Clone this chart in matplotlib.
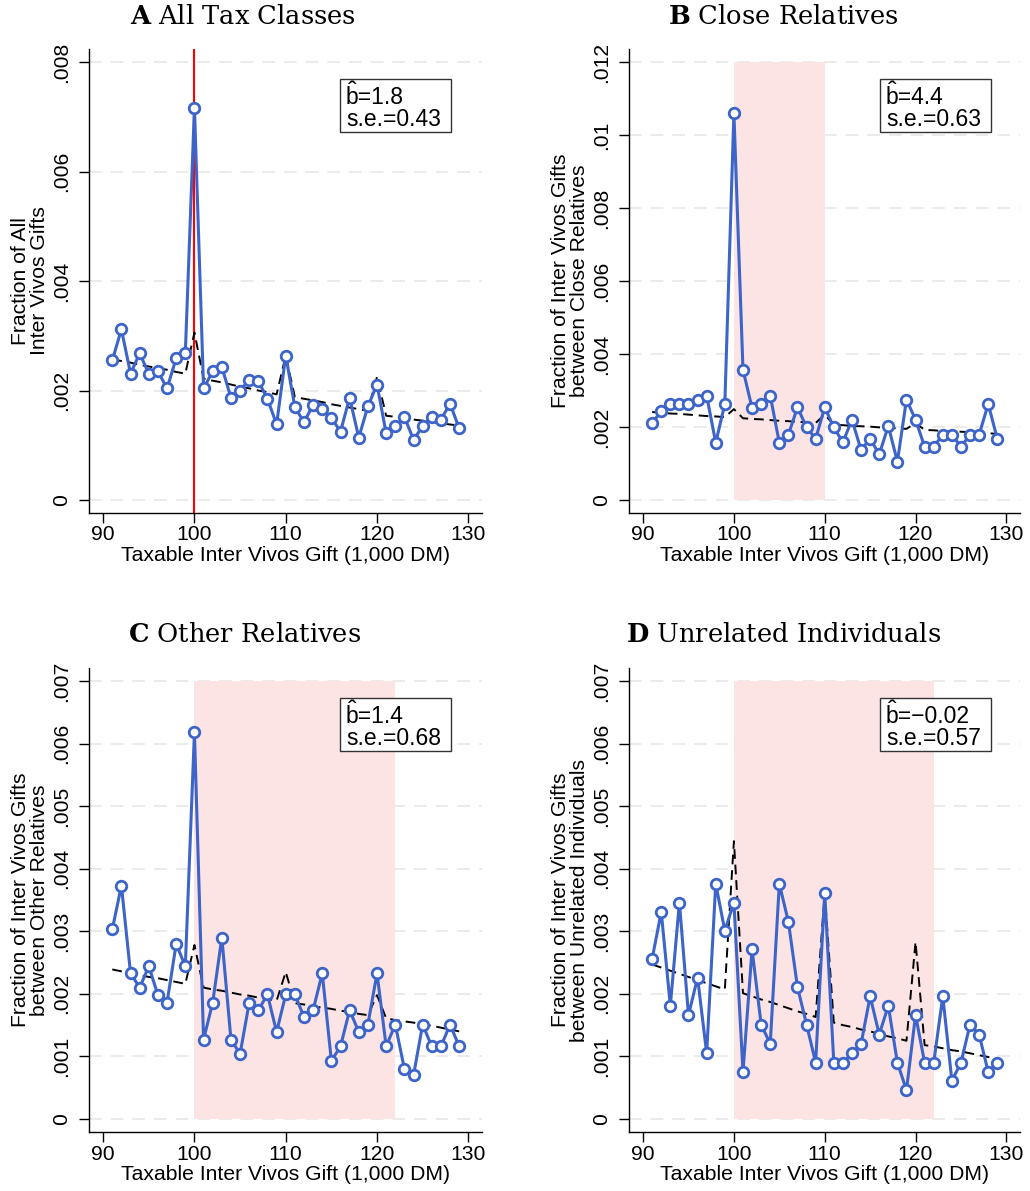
import matplotlib
matplotlib.use("Agg")
import matplotlib.pyplot as plt
from matplotlib.patches import Rectangle
from matplotlib.transforms import offset_copy

plt.rcParams['font.family'] = ['Liberation Sans', 'DejaVu Sans']
plt.rcParams['mathtext.fontset'] = 'custom'
plt.rcParams['mathtext.rm'] = 'Liberation Sans'
plt.rcParams['mathtext.it'] = 'Liberation Sans'
plt.rcParams['mathtext.bf'] = 'DejaVu Serif:bold'

# ---------------- data ----------------
gift = list(range(91, 130))

frac_all = [0.00255, 0.00312, 0.00231, 0.00268, 0.00231, 0.00235, 0.00204, 0.00259, 0.00268,
            0.00717, 0.00204, 0.00235, 0.00243, 0.00187, 0.00200, 0.00220, 0.00217, 0.00185,
            0.00138, 0.00264, 0.00170, 0.00142, 0.00174, 0.00166, 0.00150, 0.00125, 0.00187,
            0.00114, 0.00171, 0.00211, 0.00122, 0.00135, 0.00152, 0.00110, 0.00135, 0.00152,
            0.00147, 0.00176, 0.00131]
fit_all = [0.00257, 0.00254, 0.00251, 0.00247, 0.00244, 0.00241, 0.00238, 0.00234, 0.00231,
           0.00306, 0.00222, 0.00218, 0.00215, 0.00211, 0.00207, 0.00204, 0.00200, 0.00197,
           0.00193, 0.00264, 0.00188, 0.00185, 0.00182, 0.00179, 0.00175, 0.00172, 0.00169,
           0.00166, 0.00163, 0.00225, 0.00154, 0.00152, 0.00149, 0.00147, 0.00145, 0.00143,
           0.00140, 0.00138, 0.00136]

frac_close = [0.00211, 0.00243, 0.00263, 0.00263, 0.00263, 0.00275, 0.00286, 0.00157, 0.00263,
              0.01060, 0.00357, 0.00252, 0.00263, 0.00286, 0.00157, 0.00179, 0.00254, 0.00199,
              0.00168, 0.00254, 0.00199, 0.00158, 0.00220, 0.00137, 0.00168, 0.00125, 0.00203,
              0.00105, 0.00275, 0.00220, 0.00146, 0.00146, 0.00179, 0.00179, 0.00146, 0.00179,
              0.00179, 0.00263, 0.00168]
fit_close = [0.00241, 0.00239, 0.00237, 0.00236, 0.00234, 0.00232, 0.00230, 0.00229, 0.00227,
             0.00249, 0.00224, 0.00222, 0.00221, 0.00219, 0.00217, 0.00216, 0.00214, 0.00213,
             0.00211, 0.00234, 0.00206, 0.00205, 0.00203, 0.00202, 0.00201, 0.00199, 0.00198,
             0.00196, 0.00195, 0.00211, 0.00192, 0.00191, 0.00189, 0.00188, 0.00187, 0.00186,
             0.00184, 0.00183, 0.00181]

frac_other = [0.00303, 0.00373, 0.00233, 0.00210, 0.00244, 0.00198, 0.00186, 0.00280, 0.00244,
              0.00618, 0.00127, 0.00186, 0.00290, 0.00127, 0.00104, 0.00186, 0.00174, 0.00199,
              0.00139, 0.00199, 0.00199, 0.00163, 0.00174, 0.00233, 0.00093, 0.00116, 0.00174,
              0.00139, 0.00151, 0.00233, 0.00116, 0.00151, 0.00080, 0.00070, 0.00151, 0.00116,
              0.00116, 0.00151, 0.00116]
fit_other = [0.00239, 0.00236, 0.00233, 0.00230, 0.00227, 0.00225, 0.00222, 0.00219, 0.00216,
             0.00278, 0.00210, 0.00207, 0.00205, 0.00202, 0.00199, 0.00197, 0.00194, 0.00192,
             0.00189, 0.00235, 0.00185, 0.00183, 0.00180, 0.00178, 0.00176, 0.00173, 0.00171,
             0.00168, 0.00166, 0.00198, 0.00161, 0.00158, 0.00156, 0.00154, 0.00151, 0.00149,
             0.00146, 0.00143, 0.00140]

frac_unrel = [0.00256, 0.00331, 0.00181, 0.00346, 0.00166, 0.00226, 0.00105, 0.00376, 0.00301,
              0.00346, 0.00075, 0.00271, 0.00151, 0.00120, 0.00376, 0.00315, 0.00211, 0.00151,
              0.00090, 0.00361, 0.00090, 0.00090, 0.00105, 0.00120, 0.00196, 0.00135, 0.00181,
              0.00090, 0.00046, 0.00166, 0.00090, 0.00090, 0.00196, 0.00061, 0.00090, 0.00151,
              0.00135, 0.00075, 0.00090]
fit_unrel = [0.00247, 0.00242, 0.00237, 0.00232, 0.00227, 0.00222, 0.00217, 0.00212, 0.00207,
             0.00444, 0.00201, 0.00196, 0.00191, 0.00187, 0.00182, 0.00177, 0.00172, 0.00168,
             0.00163, 0.00361, 0.00154, 0.00150, 0.00147, 0.00143, 0.00140, 0.00136, 0.00132,
             0.00129, 0.00125, 0.00283, 0.00118, 0.00116, 0.00113, 0.00110, 0.00108, 0.00105,
             0.00102, 0.00099, 0.00096]

panel_letters = ["A", "B", "C", "D"]
panel_titles = ["All Tax Classes", "Close Relatives", "Other Relatives", "Unrelated Individuals"]
ylabels = ["Fraction of All\nInter Vivos Gifts",
           "Fraction of Inter Vivos Gifts\nbetween Close Relatives",
           "Fraction of Inter Vivos Gifts\nbetween Other Relatives",
           "Fraction of Inter Vivos Gifts\nbetween Unrelated Individuals"]
xlabel = "Taxable Inter Vivos Gift (1,000 DM)"
b_hat = ["1.8", "4.4", "1.4", "\u22120.02"]
se = ["0.43", "0.63", "0.68", "0.57"]

xticks = [90, 100, 110, 120, 130]
yticks_list = [[0, 0.002, 0.004, 0.006, 0.008],
               [0, 0.002, 0.004, 0.006, 0.008, 0.010, 0.012],
               [0, 0.001, 0.002, 0.003, 0.004, 0.005, 0.006, 0.007],
               [0, 0.001, 0.002, 0.003, 0.004, 0.005, 0.006, 0.007]]
yticklabels_list = [["0", ".002", ".004", ".006", ".008"],
                    ["0", ".002", ".004", ".006", ".008", ".01", ".012"],
                    ["0", ".001", ".002", ".003", ".004", ".005", ".006", ".007"],
                    ["0", ".001", ".002", ".003", ".004", ".005", ".006", ".007"]]
ylims = [(-0.000238, 0.008243), (-0.000357, 0.01236), (-0.000208, 0.007208), (-0.000208, 0.007208)]
shade_x = [None, (100, 110), (100, 122), (100, 122)]
shade_top = [None, 0.012, 0.007, 0.007]
series = [frac_all, frac_close, frac_other, frac_unrel]
fits = [fit_all, fit_close, fit_other, fit_unrel]

# ---------------- figure ----------------
W, H = 1030, 1191
fig = plt.figure(figsize=(W / 100, H / 100), dpi=100)

# axes boxes in pixels: left, top, right, bottom
boxes = [(89, 49, 482, 513), (629, 49, 1020, 513), (89, 668, 482, 1132), (629, 668, 1020, 1132)]
title_cx = [243, 783, 245, 784]
title_cy = [17, 17, 635, 635]

BLUE = "#3d64c8"
PINK = "#fde4e4"
FS = 15.2
BFS = 16.5

for i in range(4):
    l, t, r, b = boxes[i]
    ax = fig.add_axes([l / W, 1 - b / H, (r - l) / W, (b - t) / H])
    ax.set_xlim(88.45, 131.5)
    ax.set_ylim(*ylims[i])
    for s in ["top", "right"]:
        ax.spines[s].set_visible(False)
    ax.spines["left"].set_linewidth(1.0)
    ax.spines["bottom"].set_linewidth(1.0)

    ax.set_yticks(yticks_list[i])
    ax.set_yticklabels(yticklabels_list[i], rotation=90, va="center")
    ax.set_xticks(xticks)
    ax.tick_params(axis="both", direction="out", length=7, width=1.0, labelsize=FS, colors="black")
    ax.tick_params(axis="y", pad=6)
    ax.tick_params(axis="x", pad=2)

    for yv in yticks_list[i]:
        ax.axhline(yv, color="#e9e9e9", lw=1.3, dashes=(7, 5), zorder=0.5)

    if shade_x[i] is not None:
        ax.fill_between(list(shade_x[i]), 0, shade_top[i], color=PINK, lw=0, zorder=1)
    if i == 0:
        ax.axvline(100, color="#ff0000", lw=1.5, zorder=1.5)

    ax.plot(gift, fits[i], color="black", lw=1.4, dashes=(5, 3), zorder=2)
    ax.plot(gift, series[i], color=BLUE, lw=2.2, marker="o", ms=7.6, mfc="white",
            mec=BLUE, mew=2.0, zorder=3)

    ax.set_xlabel(xlabel, fontsize=FS, labelpad=1)
    ax.set_ylabel(ylabels[i], fontsize=FS, linespacing=1.0)
    ax.yaxis.set_label_coords(-0.103, 0.5)

    # estimate box (pixel geometry relative to axes)
    aw, ah = (r - l), (b - t)
    bw = 111 / aw
    bh = 53 / ah
    bx = 251 / aw
    btop = 1 - 30 / ah
    by = btop - bh
    ax.add_patch(Rectangle((bx, by), bw, bh, transform=ax.transAxes, facecolor="white",
                           edgecolor="#333333", lw=1.0, zorder=5))
    tx = bx + 6 / aw
    base1 = btop - 25 / ah
    base2 = btop - 47 / ah
    ax.text(tx, base1, "b=" + b_hat[i], transform=ax.transAxes, fontsize=BFS,
            va="baseline", ha="left", zorder=6)
    ax.text(tx, base2, "s.e.=" + se[i], transform=ax.transAxes, fontsize=BFS,
            va="baseline", ha="left", zorder=6)
    # circumflex over the b
    hat_tr = offset_copy(ax.transAxes, fig=fig, x=6.3, y=4.8, units="dots")
    ax.text(tx, base1, "\u02c6", transform=hat_tr, fontsize=BFS + 2,
            va="baseline", ha="center", zorder=6)

    # title
    fig.text(title_cx[i] / W, 1 - title_cy[i] / H,
             r"$\mathbf{" + panel_letters[i] + r"}$ " + panel_titles[i],
             ha="center", va="center", fontsize=18.5, family="DejaVu Serif")

fig.savefig("out.png", dpi=100, facecolor="white")
